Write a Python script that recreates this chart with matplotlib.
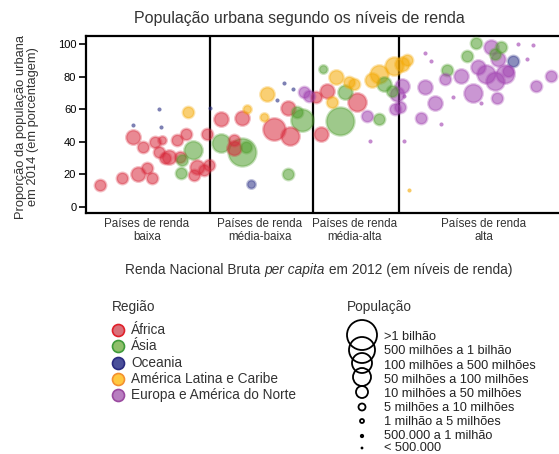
import numpy as np
import matplotlib
matplotlib.use("Agg")
from matplotlib import pyplot as plt
from matplotlib.colors import to_rgba

plt.rcParams['font.family'] = ['Liberation Sans', 'DejaVu Sans']

## income axis: arbitrary index along the GNI ordering, urban share in %
## pop class: 0 = <500 mil ... 8 = >1 bilhão
africa_x = [14, 36, 52, 61, 66, 47, 57, 68, 75, 72, 82, 90, 99, 93, 120, 110, 117, 107, 78, 122,
            134, 155, 200, 187, 202, 147, 147, 239, 228, 269, 233]
africa_y = [13.5, 17.8, 20.2, 23.9, 17.8, 42.9, 36.8, 39.9, 41.1, 33.7, 30.7, 41.1, 44.8, 30.7, 44.8, 24.5, 22.7, 19.6, 30.1, 25.8,
            54.0, 54.6, 60.7, 47.9, 43.6, 36.2, 41.1, 71.2, 67.5, 64.4, 44.8]
africa_pop = [4, 4, 5, 4, 4, 5, 4, 4, 3, 4, 5, 4, 4, 4, 4, 5, 4, 4, 4, 4,
              5, 5, 5, 7, 6, 5, 4, 5, 4, 6, 5]

asia_x = [106, 94, 95, 155, 134, 159, 214, 209, 200, 235, 257, 252, 291, 296, 304, 358, 387, 378, 412, 406]
asia_y = [35.0, 20.9, 28.8, 33.7, 39.3, 36.8, 53.4, 58.3, 20.2, 84.7, 70.6, 52.8, 54.0, 75.5, 71.2, 84.0, 100.6, 92.6, 98.2, 93.9]
asia_pop = [6, 4, 4, 8, 6, 4, 7, 4, 4, 3, 5, 8, 4, 5, 4, 4, 4, 4, 4, 4]

oceania_x = [164, 424, 72, 74, 47, 190, 197, 205, 123]
oceania_y = [14.1, 89.6, 60.1, 49.1, 50.3, 65.6, 76.1, 72.4, 60.7]
oceania_pop = [3, 4, 1, 1, 1, 1, 1, 1, 1]

latam_x = [101, 180, 160, 177, 248, 266, 261, 244, 291, 306, 314, 319, 321, 284]
latam_y = [58.3, 69.3, 60.1, 55.2, 79.8, 75.5, 76.7, 64.4, 81.6, 86.5, 87.7, 90.2, 10.4, 77.9]
latam_pop = [4, 5, 3, 3, 5, 4, 4, 4, 6, 6, 5, 4, 1, 5]

europe_x = [216, 221, 279, 309, 307, 314, 336, 346, 332, 312, 356, 372, 384, 389, 397, 406, 416, 409, 402, 419, 408, 447, 462,
            282, 336, 342, 364, 352, 392, 316, 444, 429, 438, 316]
europe_y = [70.6, 68.1, 55.8, 69.3, 60.1, 74.2, 73.6, 63.8, 54.6, 61.3, 78.5, 80.4, 69.9, 85.9, 81.6, 77.3, 81.6, 90.8, 98.2, 83.4, 66.9, 74.2, 80.4,
            40.5, 94.5, 89.6, 67.5, 50.9, 63.8, 40.5, 99.4, 100.0, 90.8, 68.1]
europe_pop = [4, 4, 4, 5, 4, 5, 5, 5, 4, 4, 4, 5, 6, 5, 6, 6, 6, 5, 5, 4, 4, 4, 4,
              1, 1, 1, 1, 1, 1, 1, 1, 1, 1, 1]

regions = ["África", "Ásia", "Oceania", "América Latina e Caribe", "Europa e América do Norte"]
pop_labels = [">1 bilhão", "500 milhões a 1 bilhão", "100 milhões a 500 milhões", "50 milhões a 100 milhões",
              "10 milhões a 50 milhões", "5 milhões a 10 milhões", "1 milhão a 5 milhões",
              "500.000 a 1 milhão", "< 500.000"]
group_labels = ["Países de renda\nbaixa", "Países de renda\nmédia-baixa", "Países de renda\nmédia-alta", "Países de renda\nalta"]

W, H = 559, 454
def fx(x):
    return x / W
def fy(y):
    return 1 - y / H

colors = ["#d8283a", "#4f9e2c", "#2a2f85", "#f5a800", "#a040b0"]
leg_face = ["#d9707a", "#8fbf6a", "#4a4f9a", "#ffc840", "#b87ec0"]
leg_edge = ["#e0202a", "#3f9a3a", "#2a2a80", "#f39030", "#9a4aa0"]
radius = [1.3, 1.8, 2.6, 4.2, 5.7, 7.2, 9.2, 11.2, 14]   # px per pop class
txt = "#333333"

fig = plt.figure(figsize=(5.59, 4.54), dpi=100)
ax = fig.add_axes([fx(86), fy(213), 1 - fx(86) + 0.01, 177 / H])

data = [(africa_x, africa_y, africa_pop), (asia_x, asia_y, asia_pop), (oceania_x, oceania_y, oceania_pop),
        (latam_x, latam_y, latam_pop), (europe_x, europe_y, europe_pop)]
pts = []
for k, (xs, ys, ps) in enumerate(data):
    for x, y, p in zip(xs, ys, ps):
        pts.append((p, x, y, k))
pts.sort(key=lambda t: -t[0])
for p, x, y, k in pts:
    r = radius[p]
    s = (2 * r * 0.72) ** 2
    a = 0.55 if p > 1 else 0.6
    ax.scatter(x, y, s=s, facecolor=to_rgba(colors[k], a), edgecolor=to_rgba(colors[k], 0.3),
               linewidth=1.8 if p > 1 else 0.5, zorder=3)

ax.set_xlim(0, 475)
ax.set_ylim(-3.7, 104.9)
for xd in [123, 225, 311]:
    ax.axvline(xd, color="black", lw=1.6, zorder=2)
ax.spines["right"].set_visible(False)
for sp in ["left", "top", "bottom"]:
    ax.spines[sp].set_linewidth(1.6)
ax.set_xticks([])
ax.set_yticks([0, 20, 40, 60, 80, 100])
ax.tick_params(axis="y", direction="out", length=5, width=1.2, labelsize=8, pad=2)

fig.text(fx(299), fy(19), "População urbana segundo os níveis de renda", fontsize=11.5, ha="center", va="center", color=txt)
fig.text(fx(27), fy(127), "Proporção da população urbana\nem 2014 (em porcentagem)", rotation=90, fontsize=9.3,
         ha="center", va="center", color=txt, linespacing=1.0)

for lab, cx in zip(group_labels, [147, 260, 355, 484]):
    fig.text(fx(cx), fy(218), lab, fontsize=8.4, ha="center", va="top", color=txt, linespacing=1.15)

t1 = fig.text(fx(125), fy(270), "Renda Nacional Bruta ", fontsize=9.9, ha="left", va="center", color=txt)
a2 = ax.annotate("per capita", xy=(1, 0), xycoords=t1, va="bottom", ha="left", fontsize=9.9, style="italic", color=txt)
ax.annotate(" em 2012 (em níveis de renda)", xy=(1, 0), xycoords=a2, va="bottom", ha="left", fontsize=9.9, color=txt)

# region legend
fig.text(fx(112), fy(307), "Região", fontsize=9.8, ha="left", va="center", color=txt)
for i, lab in enumerate(regions):
    yy = 330 + i * 16.3
    fig.text(fx(131), fy(yy), lab, fontsize=9.8, ha="left", va="center", color=txt)
    ax.scatter([fx(118)], [fy(yy)], s=(12 * 0.72) ** 2, facecolor=leg_face[i], edgecolor=leg_edge[i],
               linewidth=1.2, transform=fig.transFigure, clip_on=False)

# population legend
fig.text(fx(347), fy(307), "População", fontsize=9.8, ha="left", va="center", color=txt)
leg_r = [15, 13, 10, 9, 6, 3.5, 2, 1.5, 1]
leg_cy = [335, 350, 363, 377, 392, 407, 421, 436, 448]
leg_ty = [337, 351, 366, 380, 394, 408, 422, 436, 448]
for lab, r, cy, ty in zip(pop_labels, leg_r, leg_cy, leg_ty):
    fig.text(fx(384), fy(ty), lab, fontsize=9.2, ha="left", va="center", color="#222222")
    if r > 1.5:
        ax.scatter([fx(362)], [fy(cy)], s=(2 * r * 0.72) ** 2, facecolor="none", edgecolor="black",
                   linewidth=1.3, transform=fig.transFigure, clip_on=False)
    else:
        ax.scatter([fx(362)], [fy(cy)], s=(2 * r * 0.72) ** 2 * 2, facecolor="black", edgecolor="none",
                   transform=fig.transFigure, clip_on=False)

fig.savefig("out.png", dpi=100)
